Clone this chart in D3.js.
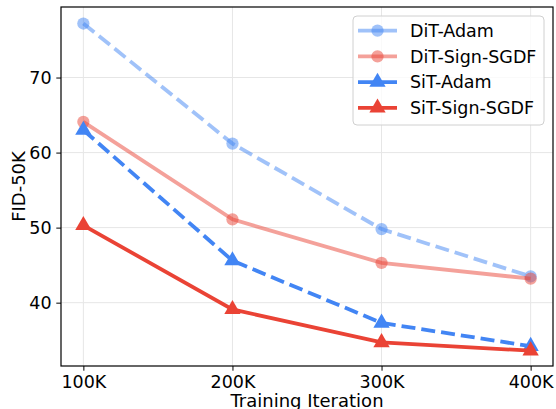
<!DOCTYPE html>
<html>
<head>
<meta charset="utf-8">
<script src="https://cdn.jsdelivr.net/npm/d3@7"></script>
<style>
  body { margin: 0; background: #fff; }
  svg { display: block; font-family: "DejaVu Sans", sans-serif; }
</style>
</head>
<body>
<script>
let width = 556;
let height = 409;

// data
let iterations = [100, 200, 300, 400];
let ditAdam = [77.2, 61.2, 49.8, 43.5];
let ditSignSgdf = [64.1, 51.1, 45.3, 43.2];
let sitAdam = [63.0, 45.6, 37.3, 34.2];
let sitSignSgdf = [50.3, 39.1, 34.7, 33.6];
let yTicks = [40, 50, 60, 70];

let series = [
  { name: "DiT-Adam", values: ditAdam, color: "#4285F4", alpha: 0.5, dashed: true, marker: "circle" },
  { name: "DiT-Sign-SGDF", values: ditSignSgdf, color: "#EA4335", alpha: 0.5, dashed: false, marker: "circle" },
  { name: "SiT-Adam", values: sitAdam, color: "#4285F4", alpha: 1, dashed: true, marker: "triangle" },
  { name: "SiT-Sign-SGDF", values: sitSignSgdf, color: "#EA4335", alpha: 1, dashed: false, marker: "triangle" }
];

let margin = { top: 7, right: 3, bottom: 43, left: 61 };
let plotW = width - margin.left - margin.right;
let plotH = height - margin.top - margin.bottom;

let lineWidth = 3.8;
let fontSize = 17.5;
let tickLen = 4.7;

let svg = d3
  .select("body")
  .append("svg")
  .attr("width", width)
  .attr("height", height);

let x = d3.scaleLinear().domain([85, 415]).range([0, plotW]);
let y = d3.scaleLinear().domain([31.56, 79.4]).range([plotH, 0]);

let g = svg
  .append("g")
  .attr("transform", "translate(" + margin.left + "," + margin.top + ")");

// grid
g.append("g")
  .selectAll("line")
  .data(iterations)
  .enter()
  .append("line")
  .attr("x1", d => x(d))
  .attr("x2", d => x(d))
  .attr("y1", 0)
  .attr("y2", plotH)
  .attr("stroke", "#e6e6e6")
  .attr("stroke-width", 1);
g.append("g")
  .selectAll("line")
  .data(yTicks)
  .enter()
  .append("line")
  .attr("x1", 0)
  .attr("x2", plotW)
  .attr("y1", d => y(d))
  .attr("y2", d => y(d))
  .attr("stroke", "#e6e6e6")
  .attr("stroke-width", 1);

// axes
let xAxis = d3
  .axisBottom(x)
  .tickValues(iterations)
  .tickFormat(d => d + "K")
  .tickSize(tickLen)
  .tickPadding(tickLen);
let yAxis = d3
  .axisLeft(y)
  .tickValues(yTicks)
  .tickSize(tickLen)
  .tickPadding(tickLen);

let gx = g
  .append("g")
  .attr("transform", "translate(0," + plotH + ")")
  .call(xAxis);
let gy = g.append("g").call(yAxis);

for (let ax of [gx, gy]) {
  ax.select(".domain").remove();
  ax.selectAll("line").attr("stroke", "#000").attr("stroke-width", 1);
  ax.selectAll("text")
    .attr("fill", "#000")
    .style("font-size", fontSize + "px")
    .style("font-family", "DejaVu Sans");
}

// lines
let line = d3
  .line()
  .x((d, i) => x(iterations[i]))
  .y(d => y(d));

let circleSym = d3.symbol().type(d3.symbolCircle).size(118);
let triSym = d3.symbol().type(d3.symbolTriangle).size(115);

function drawMarker(sel, s) {
  return sel
    .append("path")
    .attr("d", s.marker === "circle" ? circleSym : triSym)
    .attr("fill", s.color)
    .attr("fill-opacity", s.alpha);
}

for (let s of series) {
  g.append("path")
    .datum(s.values)
    .attr("d", line)
    .attr("fill", "none")
    .attr("stroke", s.color)
    .attr("stroke-opacity", s.alpha)
    .attr("stroke-width", lineWidth)
    .attr("stroke-dasharray", s.dashed ? "14,6" : null);

  let pts = g
    .append("g")
    .selectAll("g")
    .data(s.values)
    .enter()
    .append("g")
    .attr("transform", (d, i) => "translate(" + x(iterations[i]) + "," + y(d) + ")");
  pts.each(function() {
    drawMarker(d3.select(this), s);
  });
}

// frame
g.append("rect")
  .attr("x", 0)
  .attr("y", 0)
  .attr("width", plotW)
  .attr("height", plotH)
  .attr("fill", "none")
  .attr("stroke", "#000")
  .attr("stroke-width", 1.2);

// axis titles
svg
  .append("text")
  .attr("x", margin.left + plotW / 2)
  .attr("y", 406.5)
  .attr("text-anchor", "middle")
  .style("font-size", "18px")
  .text("Training Iteration");

svg
  .append("text")
  .attr("transform", "translate(25," + (margin.top + plotH / 2) + ") rotate(-90)")
  .attr("text-anchor", "middle")
  .style("font-size", "18px")
  .text("FID-50K");

// legend
let legend = svg.append("g").attr("transform", "translate(353,16)");
legend
  .append("rect")
  .attr("width", 191)
  .attr("height", 109)
  .attr("rx", 4)
  .attr("fill", "#fff")
  .attr("fill-opacity", 0.8)
  .attr("stroke", "#d0d0d0")
  .attr("stroke-width", 1);

let rowH = 25.7;
let items = legend
  .selectAll(".item")
  .data(series)
  .enter()
  .append("g")
  .attr("transform", (d, i) => "translate(0," + (14.7 + i * rowH) + ")");

items
  .append("line")
  .attr("x1", 5)
  .attr("x2", 44)
  .attr("stroke", d => d.color)
  .attr("stroke-opacity", d => d.alpha)
  .attr("stroke-width", lineWidth);

items.each(function(d) {
  drawMarker(d3.select(this).append("g").attr("transform", "translate(24.5,0)"), d);
});

items
  .append("text")
  .attr("x", 57)
  .attr("dy", "0.35em")
  .style("font-size", fontSize + "px")
  .text(d => d.name);
</script>
</body>
</html>
